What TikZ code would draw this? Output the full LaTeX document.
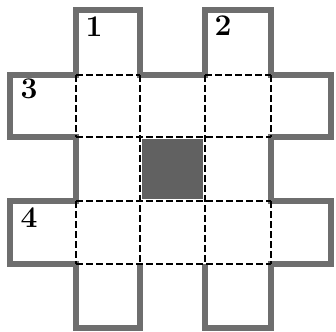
\documentclass[tikz,border=0pt]{standalone}
\usepackage{fix-cm}
\usepackage{tikz}
\usetikzlibrary{positioning}

\begin{document}
\begin{tikzpicture}[
    x=1pt, y=-1pt,
    rim/.style={draw=black!57, line width=5.5pt, line join=miter},
    fold/.style={draw=black, line width=1.8pt, dash pattern=on 7pt off 3pt},
    shade/.style={fill=black!62, draw=none},
    num/.style={font=\fontsize{30}{32}\selectfont\bfseries, inner sep=0pt}
]
\useasboundingbox (0,0) rectangle (336,331);

% Shaded middle cell
\fill[shade] (142,139) rectangle (203,199);

% Outer outline of the net
\draw[rim] (140,264) -- (140,328) -- (76,328) -- (76,264) -- (10,264) -- (10,201)
    -- (76,201) -- (76,137) -- (10,137) -- (10,75) -- (76,75) -- (76,10)
    -- (140,10) -- (140,75) -- (205,75) -- (205,10) -- (271,10) -- (271,75)
    -- (331,75) -- (331,137) -- (271,137) -- (271,201) -- (331,201) -- (331,264)
    -- (271,264) -- (271,328) -- (205,328) -- (205,264);

% Fold lines
\draw[fold] (76,75) -- (140,75);
\draw[fold] (205,75) -- (271,75);
\draw[fold] (76,137) -- (271,137);
\draw[fold] (76,201) -- (271,201);
\draw[fold] (76,264) -- (271,264);
\draw[fold] (76,75) -- (76,137);
\draw[fold] (76,201) -- (76,264);
\draw[fold] (140,75) -- (140,264);
\draw[fold] (205,75) -- (205,264);
\draw[fold] (271,75) -- (271,137);
\draw[fold] (271,201) -- (271,264);

% Flap numbers
\node[num] (one) at (94,27) {1};
\node[num] (two) at (223,26) {2};
\node[num] (three) at (29,89) {3};
\node[num] (four) at (29,218) {4};
\end{tikzpicture}
\end{document}
